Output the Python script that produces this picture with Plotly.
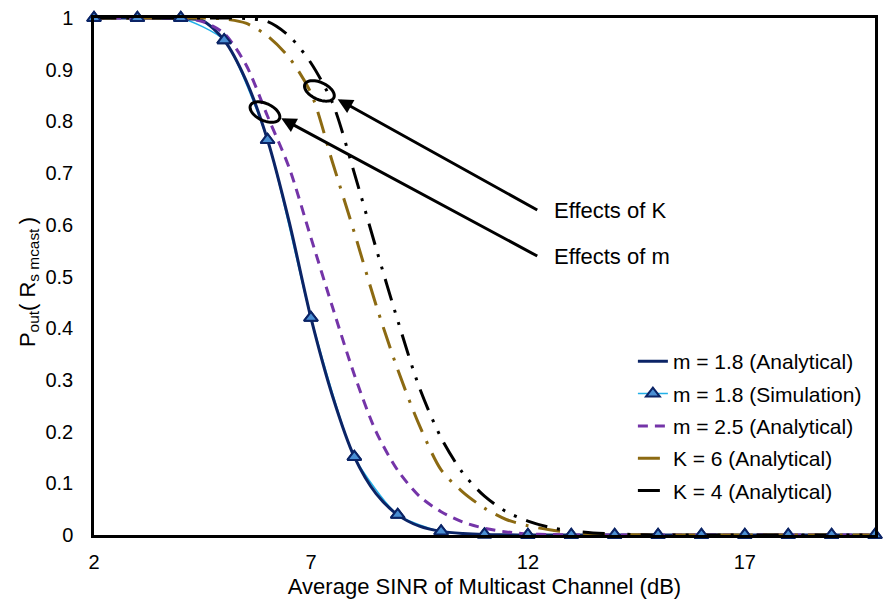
import numpy as np
import plotly.graph_objects as go

# Average SINR grid (dB) for the analytical curves
sinr_fine = [2, 3, 4, 4.5, 5, 5.5, 6, 6.5, 7, 7.5, 8, 8.5, 9, 9.5, 10, 10.5, 11,
             11.5, 12, 12.5, 13, 13.5, 14, 15, 16, 17, 18, 19, 20]

# Outage probability, analytical
m18_analytical = [1, 1, 0.999, 0.995, 0.957, 0.88, 0.764, 0.605, 0.42, 0.268, 0.151,
                  0.08, 0.039, 0.017, 0.007, 0.003, 0.001, 0.0004, 0.0001, 0, 0, 0,
                  0, 0, 0, 0, 0, 0, 0]
m25_analytical = [1, 1, 0.999, 0.993, 0.97, 0.91, 0.81, 0.71, 0.575, 0.44, 0.31,
                  0.2, 0.125, 0.075, 0.045, 0.025, 0.013, 0.006, 0.002, 0.001, 0,
                  0, 0, 0, 0, 0, 0, 0, 0]
k6_analytical = [1, 1, 1, 1, 0.998, 0.99, 0.965, 0.923, 0.855, 0.72, 0.585, 0.445,
                 0.32, 0.212, 0.126, 0.083, 0.052, 0.03, 0.018, 0.01, 0.005, 0.002,
                 0.001, 0, 0, 0, 0, 0, 0]
k4_analytical = [1, 1, 1, 1, 1, 0.999, 0.993, 0.965, 0.913, 0.835, 0.7, 0.555,
                 0.415, 0.285, 0.188, 0.12, 0.075, 0.045, 0.027, 0.015, 0.008,
                 0.004, 0.002, 0, 0, 0, 0, 0, 0]

# Monte-Carlo simulation points (1 dB steps)
sinr_sim = list(range(2, 21))
m18_simulation = [1, 1, 1, 0.957, 0.764, 0.42, 0.151, 0.039, 0.007, 0.001,
                  0, 0, 0, 0, 0, 0, 0, 0, 0]

x_ticks = [2, 7, 12, 17]
y_ticks = [0, 0.1, 0.2, 0.3, 0.4, 0.5, 0.6, 0.7, 0.8, 0.9, 1]

FONT = "Liberation Sans, Arial, Helvetica, sans-serif"
NAVY = "#0B2466"
LIGHT_BLUE = "#22B0E8"
TRI_FILL = "#4A8FD4"
PURPLE = "#7434A8"
GOLD = "#8C6A12"

X_RANGE = [2, 20]
Y_RANGE = [0, 1]
W, H = 884, 605
M = dict(l=94, r=6, t=18, b=70)
PX_PER_X = (W - M["l"] - M["r"]) / (X_RANGE[1] - X_RANGE[0])
PX_PER_Y = (H - M["t"] - M["b"]) / (Y_RANGE[1] - Y_RANGE[0])

fig = go.Figure()

# simulation line sits underneath the analytical curve
fig.add_trace(go.Scatter(
    x=sinr_sim, y=m18_simulation, mode="lines+markers", name="m = 1.8 (Simulation)",
    line=dict(color=LIGHT_BLUE, width=1.5, shape="spline", smoothing=0.6),
    marker=dict(symbol="triangle-up", size=12, color=TRI_FILL,
                line=dict(color=NAVY, width=2)),
    legendrank=2, legendgroup="g2", cliponaxis=False))

fig.add_trace(go.Scatter(
    x=sinr_fine, y=m18_analytical, mode="lines", name="m = 1.8 (Analytical)",
    line=dict(color=NAVY, width=3, shape="spline", smoothing=0.8),
    legendrank=1, legendgroup="g1"))

fig.add_trace(go.Scatter(
    x=sinr_fine, y=m25_analytical, mode="lines", name="m = 2.5 (Analytical)",
    line=dict(color=PURPLE, width=3, shape="spline", smoothing=0.8, dash="10px,7px"),
    legendrank=3, legendgroup="g3"))

fig.add_trace(go.Scatter(
    x=sinr_fine, y=k6_analytical, mode="lines", name="K = 6 (Analytical)",
    line=dict(color=GOLD, width=3, shape="spline", smoothing=0.8,
              dash="22px,10px,3px,10px"),
    legendrank=4, legendgroup="g4"))

fig.add_trace(go.Scatter(
    x=sinr_fine, y=k4_analytical, mode="lines", name="K = 4 (Analytical)",
    line=dict(color="black", width=3, shape="spline", smoothing=0.8,
              dash="22px,10px,3px,10px,3px,10px"),
    legendrank=5, legendgroup="g5"))

# simulation markers redrawn on top of the curves
fig.add_trace(go.Scatter(
    x=sinr_sim, y=m18_simulation, mode="markers", showlegend=False, hoverinfo="skip",
    marker=dict(symbol="triangle-up", size=12, color=TRI_FILL,
                line=dict(color=NAVY, width=2)),
    cliponaxis=False))


def ellipse_path(cx, cy, a_px, b_px, angle_deg):
    """Closed SVG path (data coords) for a tilted ellipse sized in pixels."""
    th = np.radians(angle_deg)
    t = np.linspace(0, 2 * np.pi, 60)
    dx = a_px * np.cos(t) * np.cos(th) - b_px * np.sin(t) * np.sin(th)
    dy = a_px * np.cos(t) * np.sin(th) + b_px * np.sin(t) * np.cos(th)
    xs = cx + dx / PX_PER_X
    ys = cy - dy / PX_PER_Y
    pts = [f"{x:.4f},{y:.4f}" for x, y in zip(xs, ys)]
    return "M " + " L ".join(pts) + " Z"


shapes = [
    dict(type="path", xref="x", yref="y", path=ellipse_path(5.94, 0.818, 16, 8.5, 25),
         line=dict(color="black", width=3)),
    dict(type="path", xref="x", yref="y", path=ellipse_path(7.195, 0.859, 16, 8.5, 25),
         line=dict(color="black", width=3)),
]

LABEL_FONT = dict(family=FONT, size=22, color="black")

annotations = [
    dict(x=7.616, y=0.843, ax=12.25, ay=0.627, xref="x", yref="y", axref="x", ayref="y",
         text="", showarrow=True, arrowhead=2, arrowsize=1, arrowwidth=3,
         arrowcolor="black", standoff=0),
    dict(x=6.315, y=0.806, ax=12.25, ay=0.538, xref="x", yref="y", axref="x", ayref="y",
         text="", showarrow=True, arrowhead=2, arrowsize=1, arrowwidth=3,
         arrowcolor="black", standoff=0),
    dict(x=12.55, y=0.627, xref="x", yref="y", text="Effects of K", showarrow=False,
         xanchor="left", yanchor="middle", font=LABEL_FONT),
    dict(x=12.55, y=0.538, xref="x", yref="y", text="Effects of m", showarrow=False,
         xanchor="left", yanchor="middle", font=LABEL_FONT),
    dict(x=-0.084, y=0.49, xref="paper", yref="paper", textangle=-90,
         text="P<sub>out</sub>( R<sub>s mcast </sub>)", showarrow=False,
         xanchor="center", yanchor="middle", font=LABEL_FONT),
]

fig.update_layout(
    width=W, height=H, margin=M,
    paper_bgcolor="white", plot_bgcolor="white",
    font=dict(family=FONT, size=20, color="black"),
    shapes=shapes, annotations=annotations,
    legend=dict(x=0.69, y=0.375, xanchor="left", yanchor="top",
                bgcolor="rgba(0,0,0,0)", font=dict(family=FONT, size=21),
                traceorder="grouped", tracegroupgap=2, itemwidth=30),
)

fig.update_xaxes(
    range=X_RANGE, tickvals=x_ticks, ticks="", showgrid=False, zeroline=False,
    showline=True, mirror=True, linecolor="black", linewidth=2.5,
    tickfont=dict(family=FONT, size=20), ticklabelstandoff=7,
    title=dict(text="Average SINR of Multicast Channel (dB)", standoff=7,
               font=dict(family=FONT, size=22)))
fig.update_yaxes(
    range=Y_RANGE, tickvals=y_ticks, ticktext=[f"{v:g}" for v in y_ticks], ticks="",
    showgrid=False, zeroline=False,
    showline=True, mirror=True, linecolor="black", linewidth=2.5,
    tickfont=dict(family=FONT, size=20), ticklabelstandoff=14)

fig.write_html("out.html")
